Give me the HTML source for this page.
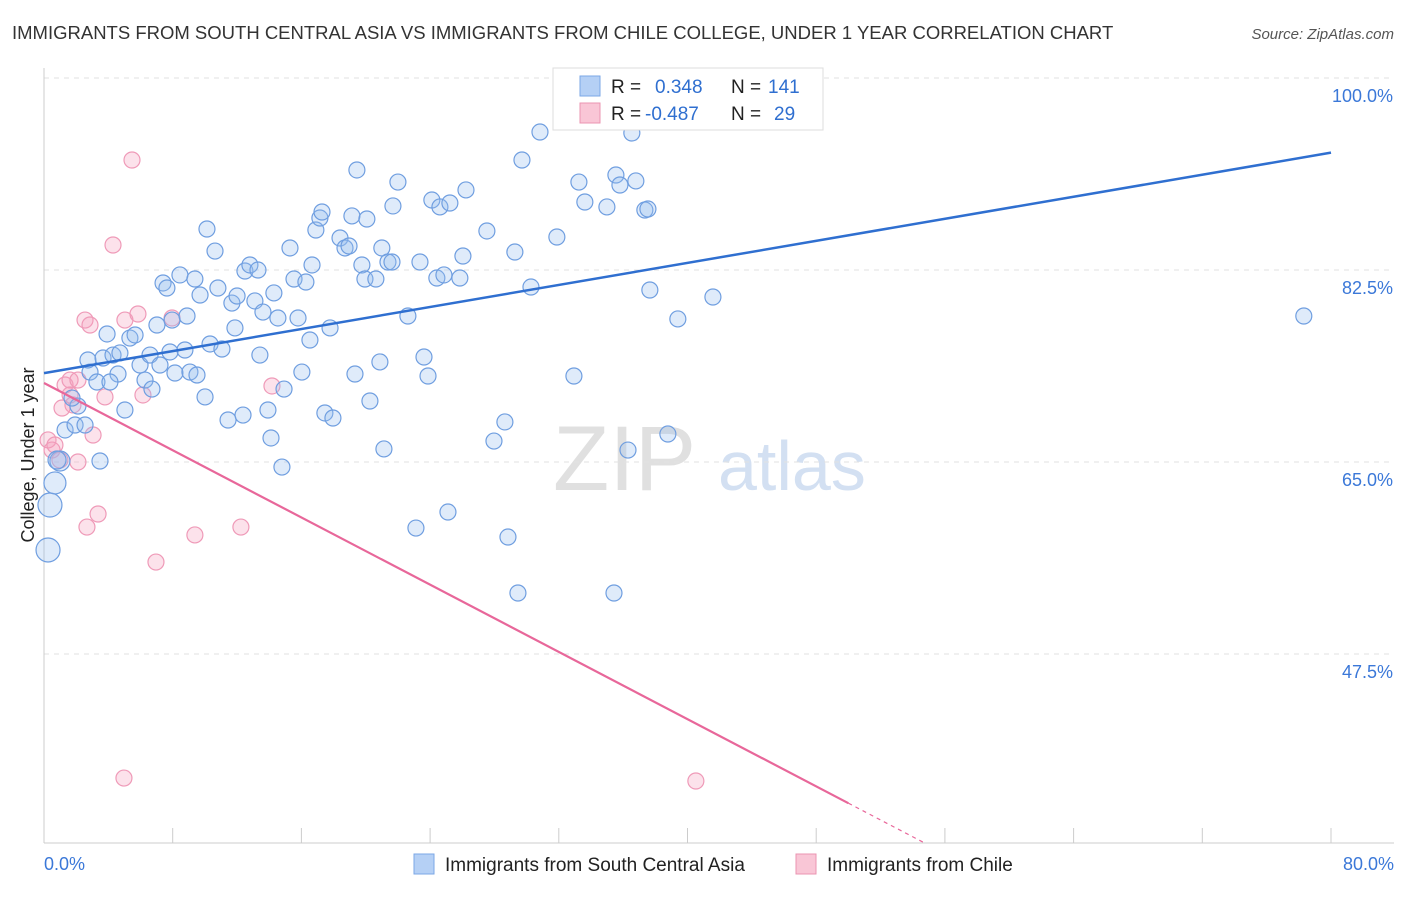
<!DOCTYPE html>
<html><head><meta charset="utf-8"><style>
body{margin:0;background:#fff;font-family:"Liberation Sans",sans-serif;}
svg text{font-family:"Liberation Sans",sans-serif;}
</style></head><body>
<svg id="chart" width="1406" height="892">
<text x="12" y="39" font-size="18.5" fill="#333">IMMIGRANTS FROM SOUTH CENTRAL ASIA VS IMMIGRANTS FROM CHILE COLLEGE, UNDER 1 YEAR CORRELATION CHART</text>
<text x="1394" y="39" font-size="15" fill="#555" text-anchor="end" font-style="italic">Source: ZipAtlas.com</text>
<text x="0" y="0" font-size="18" fill="#222" transform="translate(34,455) rotate(-90)" text-anchor="middle">College, Under 1 year</text>
<g><text x="553" y="490" font-size="92" fill="#e0e0e0" font-family="Liberation Serif">ZIP</text><text x="718" y="490" font-size="70" fill="#d3e0f2">atlas</text></g>
<g id="grid"></g><g id="axes"></g><g id="marks"></g>
<g>
<rect x="553" y="68" width="270" height="62" fill="#fff" stroke="#ddd"/>
<rect x="580" y="76" width="20" height="20" fill="#b5d0f5" stroke="#7ba7e6"/>
<rect x="580" y="103" width="20" height="20" fill="#f9c6d6" stroke="#eb94b1"/>
<text x="611" y="93" font-size="19" fill="#222">R = <tspan fill="#2f6fd0" x="655">0.348</tspan><tspan fill="#222" x="731">N = </tspan><tspan fill="#2f6fd0" x="768">141</tspan></text>
<text x="611" y="120" font-size="19" fill="#222">R = <tspan fill="#2f6fd0" x="645">-0.487</tspan><tspan fill="#222" x="731">N = </tspan><tspan fill="#2f6fd0" x="774">29</tspan></text>
</g>
<g>
<rect x="414" y="854" width="20" height="20" fill="#b5d0f5" stroke="#7ba7e6"/>
<text x="445" y="871" font-size="19" fill="#222">Immigrants from South Central Asia</text>
<rect x="796" y="854" width="20" height="20" fill="#f9c6d6" stroke="#eb94b1"/>
<text x="827" y="871" font-size="19" fill="#222">Immigrants from Chile</text>
</g>
</svg>
<script>
const blue=[[0.25,56.98,12],[0.37,61.08,12],[0.68,63.09,11],[0.99,65.09,10],[0.81,65.18,9],[1.31,67.92],[1.93,68.37],[2.55,68.37],[2.11,70.1],[1.74,70.83],[2.86,73.2],[3.29,72.29],[3.48,65.09],[2.73,74.3],[3.92,76.67],[3.67,74.48],[4.29,74.75],[4.72,74.94],[4.60,73.02],[4.10,72.29],[5.03,69.74],[5.34,76.3],[5.66,76.58],[5.97,73.84],[6.28,72.47],[6.59,74.75],[6.71,71.65],[7.02,77.49],[7.21,73.84],[7.40,81.32],[7.64,80.86],[7.83,75.03],[7.96,77.94],[8.14,73.11],[8.45,82.05],[8.76,75.21],[8.89,78.31],[9.07,73.2],[9.38,81.68],[9.51,72.93],[9.70,80.22],[10.01,70.93],[10.13,86.24],[10.32,75.76],[10.63,84.23],[10.81,80.86],[11.06,75.3],[11.44,68.83],[11.68,79.49],[11.87,77.22],[12.0,80.13],[12.37,69.28],[12.49,82.41],[12.8,82.96],[13.11,79.68],[13.3,82.5],[13.42,74.75],[13.61,78.67],[13.92,69.74],[14.11,67.19],[14.29,80.41],[14.54,78.13],[14.79,64.54],[14.92,71.65],[15.29,84.51],[15.54,81.68],[15.79,78.13],[16.03,73.2],[16.28,81.41],[16.53,76.12],[16.66,82.96],[16.9,86.15],[17.15,87.24],[17.28,87.79],[17.46,69.47],[17.78,77.22],[17.96,69.01],[18.4,85.42],[18.71,84.51],[18.96,84.69],[19.14,87.43],[19.33,73.02],[19.45,91.62],[19.76,82.96],[19.95,81.68],[20.07,87.15],[20.26,70.56],[20.63,81.68],[20.88,74.12],[21.0,84.51],[21.13,66.19],[21.38,83.23],[21.63,83.23],[21.69,88.34],[22.0,90.52],[22.62,78.31],[23.12,58.98],[23.37,83.23],[23.62,74.57],[23.87,72.84],[24.11,88.88],[24.42,81.77],[24.61,88.25],[24.86,82.05],[25.11,60.44],[25.23,88.61],[25.85,81.77],[26.04,83.78],[26.23,89.8],[27.53,86.06],[27.97,66.91],[28.65,68.65],[28.84,58.16],[29.27,84.14],[29.46,53.06],[29.71,92.53],[30.27,80.95],[30.83,95.08],[31.88,85.51],[32.94,72.84],[33.25,90.52],[33.62,88.7],[34.99,88.25],[35.43,53.06],[35.55,91.16],[35.8,90.25],[36.3,66.09],[36.54,94.99],[36.79,90.62],[37.35,87.97],[37.54,88.06],[37.66,80.68],[38.78,67.55],[39.4,78.04],[41.58,80.04],[78.31,78.31]];
const pink=[[0.25,67.01],[0.5,66.09],[0.68,66.55],[0.99,65.18],[1.31,72.02],[1.62,72.47],[1.8,70.2],[2.11,72.47],[1.12,69.92],[2.11,65.0],[2.55,77.94],[2.86,77.49],[3.05,67.46],[2.67,59.07],[3.36,60.26],[3.79,70.93],[4.29,84.78],[5.03,77.94],[5.84,78.49],[6.15,71.11],[5.47,92.53],[6.96,55.88],[7.96,78.13],[9.38,58.35],[12.24,59.07],[14.17,71.93],[4.97,36.19],[40.52,35.92],[1.62,71.11]];
const blueLine=[73.1,93.2];
const pinkLine=[72.2,-0.766];
const yTicks=[100,82.5,65,47.5];
const xTicks=[0,8,16,24,32,40,48,56,64,72,80];
const NS="http://www.w3.org/2000/svg";
const X=v=>44+v*16.0875, Y=v=>462-(v-65)*10.97;
function mk(t,a,p){const e=document.createElementNS(NS,t);for(const k in a)e.setAttribute(k,a[k]);(p||document.getElementById('marks')).appendChild(e);return e;}
const grid=document.getElementById('grid'),axes=document.getElementById('axes');
yTicks.forEach(t=>{const l=mk('line',{x1:44,x2:1394,y1:Y(t),y2:Y(t),stroke:'#e2e2e2','stroke-dasharray':'5,5'},grid);


const tx=mk('text',{x:1393,y:Y(t)+24,'font-size':18,fill:'#3b78d8','text-anchor':'end'},axes);tx.textContent=t.toFixed(1)+'%';

});
const ax=mk('line',{x1:44,x2:1394,y1:843,y2:843,stroke:'#ccc'},axes);


const ay=mk('line',{x1:44,x2:44,y1:68,y2:843,stroke:'#ccc'},axes);


xTicks.forEach(t=>{const l=mk('line',{x1:X(t),x2:X(t),y1:828,y2:843,stroke:'#ccc'},axes);

});
[[0,'start',44],[80,'end',1394]].forEach(([v,a,x])=>{const t=mk('text',{x:x,y:870,'font-size':18,fill:'#3b78d8','text-anchor':a},axes);t.textContent=v.toFixed(1)+'%';

});
pink.forEach(d=>{const c=mk('circle',{cx:X(d[0]),cy:Y(d[1]),r:8,fill:'rgba(244,160,190,0.3)',stroke:'#ef9ab8','stroke-width':1.2});

});
blue.forEach(d=>{const c=mk('circle',{cx:X(d[0]),cy:Y(d[1]),r:d[2]||8,fill:'rgba(150,190,240,0.3)',stroke:'#6f9ee0','stroke-width':1.2});

});
const bl=mk('line',{x1:X(0),y1:Y(blueLine[0]),x2:X(80),y2:Y(blueLine[1]),stroke:'#2f6fd0','stroke-width':2.5});


const pe=50, pEnd=(30.3-pinkLine[0])/pinkLine[1];
const pl=mk('line',{x1:X(0),y1:Y(pinkLine[0]),x2:X(pe),y2:Y(pinkLine[0]+pinkLine[1]*pe),stroke:'#e8679a','stroke-width':2.2});


const pd=mk('line',{x1:X(pe),y1:Y(pinkLine[0]+pinkLine[1]*pe),x2:X(pEnd),y2:Y(30.3),stroke:'#e8679a','stroke-width':1.2,'stroke-dasharray':'4,4'});


</script>
</body></html>
